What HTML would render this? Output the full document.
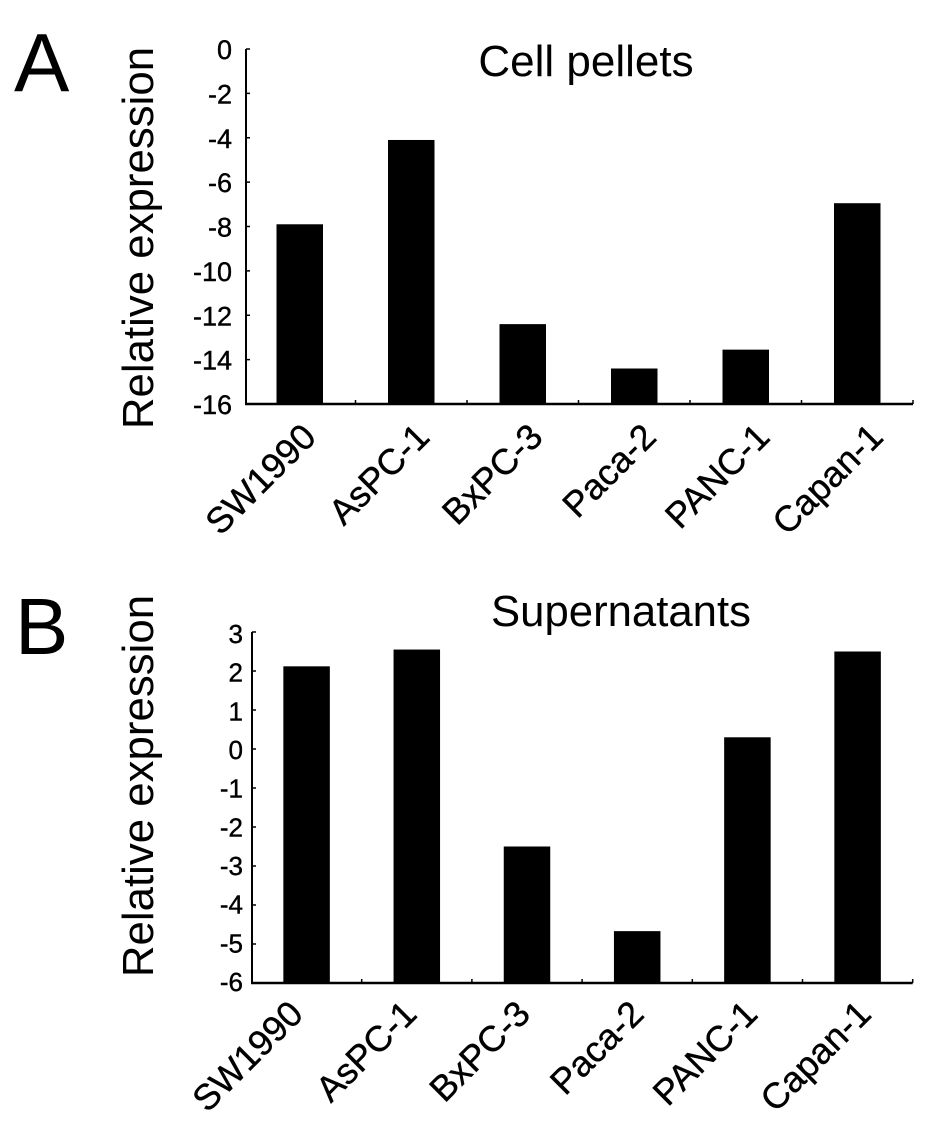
<!DOCTYPE html>
<html>
<head>
<meta charset="utf-8">
<style>
html,body{margin:0;padding:0;background:#fff;width:945px;height:1137px;overflow:hidden}
svg{display:block}
text{font-family:"Liberation Sans",sans-serif;fill:#000}
</style>
</head>
<body>
<svg id="figure" xmlns="http://www.w3.org/2000/svg" width="945" height="1137" viewBox="0 0 945 1137">
  <text x="14" y="91" font-size="83">A</text>
  <text x="15" y="654" font-size="80">B</text>
  <text x="586" y="76" font-size="44" text-anchor="middle">Cell pellets</text>
  <text x="621" y="626" font-size="43.7" text-anchor="middle">Supernatants</text>
  <text transform="translate(153,238) rotate(-90)" font-size="43.8" text-anchor="middle">Relative expression</text>
  <text transform="translate(153,786) rotate(-90)" font-size="43.8" text-anchor="middle">Relative expression</text>
</svg>
<script>
const categories = ['SW1990', 'AsPC-1', 'BxPC-3', 'Paca-2', 'PANC-1', 'Capan-1'];
const cellPelletValues = [-7.9, -4.1, -12.4, -14.4, -13.55, -6.95];
const supernatantValues = [2.12, 2.55, -2.5, -4.67, 0.3, 2.5];
const cellPelletTicks = [0, -2, -4, -6, -8, -10, -12, -14, -16];
const supernatantTicks = [3, 2, 1, 0, -1, -2, -3, -4, -5, -6];

const SVG_NS = 'http://www.w3.org/2000/svg';
const figure = document.getElementById('figure');

function addShape(tag, attrs, name) {
  const el = document.createElementNS(SVG_NS, tag);
  for (const key in attrs) el.setAttribute(key, attrs[key]);
  
  
  figure.appendChild(el);
  return el;
}

function drawPanel(panel, values, ticks, box) {
  const domainMax = Math.max.apply(null, ticks);
  const domainMin = Math.min.apply(null, ticks);
  const yScale = function (v) {
    return box.top + (domainMax - v) / (domainMax - domainMin) * (box.bottom - box.top);
  };
  const step = (box.right - box.plotLeft) / categories.length;
  const xScale = function (i) {
    return box.plotLeft + step * (i + 0.5);
  };

  values.forEach(function (v, i) {
    const top = yScale(v);
    addShape('rect', {
      x: xScale(i) - box.barWidth / 2,
      y: top,
      width: box.barWidth,
      height: box.bottom - top,
      fill: '#000'
    }, panel + '-bar-' + categories[i].toLowerCase());

    const label = addShape('text', {
      transform: 'translate(' + (box.labelStart + box.labelStep * i) + ',' + (box.bottom + box.labelDy) + ') rotate(-45)',
      'font-size': box.labelSize,
      'text-anchor': 'end',
      stroke: '#000',
      'stroke-width': 0.4
    }, panel + '-x-label-' + categories[i].toLowerCase());
    label.textContent = categories[i];
  });

  addShape('line', { x1: box.axisLeft, y1: box.top, x2: box.axisLeft, y2: box.bottom + 1, stroke: '#000', 'stroke-width': 2 }, panel + '-y-axis');
  addShape('line', { x1: box.axisLeft - 1, y1: box.bottom, x2: box.right, y2: box.bottom, stroke: '#000', 'stroke-width': 2.5 }, panel + '-x-axis');

  for (let i = 1; i <= categories.length; i++) {
    addShape('line', {
      x1: box.plotLeft + step * i, y1: box.bottom - 4,
      x2: box.plotLeft + step * i, y2: box.bottom,
      stroke: '#000', 'stroke-width': 1.5
    }, panel + '-x-tick');
  }

  ticks.forEach(function (t) {
    const y = yScale(t);
    addShape('line', { x1: box.axisLeft, y1: y, x2: box.axisLeft + 4, y2: y, stroke: '#000', 'stroke-width': 1.5 }, panel + '-y-tick');
    const tickLabel = addShape('text', {
      x: box.axisLeft - box.tickGap,
      y: y + box.tickDy + (t - domainMin) / (domainMax - domainMin) * box.tickDrift,
      'font-size': box.tickSize,
      'text-anchor': 'end',
      stroke: '#000',
      'stroke-width': 0.4
    }, panel + '-y-tick-label');
    tickLabel.textContent = String(t);
  });
}

drawPanel('panel-a', cellPelletValues, cellPelletTicks, {
  axisLeft: 246, plotLeft: 244, right: 913, top: 49, bottom: 404,
  barWidth: 46.5, tickDy: 10, tickDrift: 0, tickGap: 14, tickSize: 27,
  labelStart: 318, labelStep: 113.4, labelDy: 35, labelSize: 36
});
drawPanel('panel-b', supernatantValues, supernatantTicks, {
  axisLeft: 252, plotLeft: 251.5, right: 912.7, top: 632, bottom: 983,
  barWidth: 46.5, tickDy: 8, tickDrift: 3, tickGap: 9, tickSize: 26,
  labelStart: 305, labelStep: 113.6, labelDy: 33, labelSize: 36
});
</script>
</body>
</html>
